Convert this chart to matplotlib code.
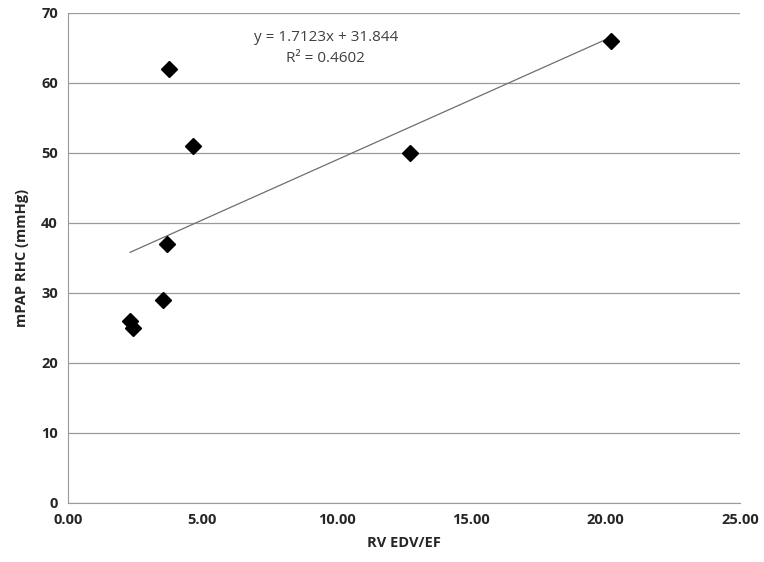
import numpy as np
import matplotlib
matplotlib.use("Agg")
import matplotlib.pyplot as plt

# RV EDV/EF vs mPAP from right heart catheterisation
rv_edv_ef = [2.32, 2.42, 3.53, 3.68, 3.78, 4.66, 12.73, 20.22]
mpap_rhc = [26, 25, 29, 37, 62, 51, 50, 66]
x_ticks = [0, 5, 10, 15, 20, 25]
y_ticks = [0, 10, 20, 30, 40, 50, 60, 70]
eq_text = "y = 1.7123x + 31.844"
r2_text = "R\u00b2 = 0.4602"

plt.rcParams["font.family"] = ["Open Sans", "DejaVu Sans"]

fig = plt.figure(figsize=(7.64, 5.62), dpi=100)
ax = fig.add_axes([0.0886, 0.105, 0.88, 0.8725])

ax.set_xlim(0, 25)
ax.set_ylim(0, 70)
ax.set_xticks(x_ticks)
ax.set_yticks(y_ticks)
ax.set_xticklabels([f"{t:.2f}" for t in x_ticks])
ax.set_yticklabels([str(t) for t in y_ticks])
ax.yaxis.grid(True, color="#9a9a9a", linewidth=0.9)
ax.set_axisbelow(True)
for side in ("top", "right"):
    ax.spines[side].set_visible(False)
for side in ("left", "bottom"):
    ax.spines[side].set_color("#9a9a9a")
ax.tick_params(length=0, labelsize=10.5, colors="#262626", pad=7)
for lbl in ax.get_xticklabels() + ax.get_yticklabels():
    lbl.set_fontweight("bold")

# linear trendline
x = np.array(rv_edv_ef)
slope, icpt = np.polyfit(x, mpap_rhc, 1)
xs = np.array([x.min(), x.max()])
ax.plot(xs, slope * xs + icpt, color="#6e6e6e", linewidth=0.9)

ax.plot(rv_edv_ef, mpap_rhc, linestyle="none", marker="D", markersize=8,
        color="black")

ax.text(9.6, 66.4, eq_text, ha="center", va="center", fontsize=11, color="#404040")
ax.text(9.6, 63.5, r2_text, ha="center", va="center", fontsize=11, color="#404040")

ax.set_xlabel("RV EDV/EF", fontsize=10.5, fontweight="bold", color="#262626", labelpad=7)
ax.set_ylabel("mPAP RHC (mmHg)", fontsize=10.5, fontweight="bold", color="#262626", labelpad=9)

fig.savefig("out.png", dpi=100)
